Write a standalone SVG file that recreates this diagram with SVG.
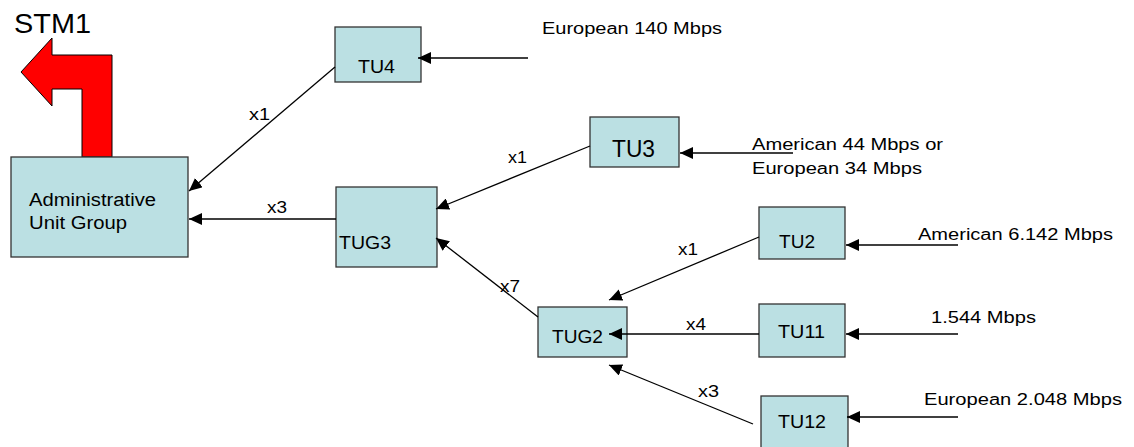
<svg xmlns="http://www.w3.org/2000/svg" width="1134" height="447" viewBox="0 0 1134 447">
<style>
.box{fill:#BBE0E3;stroke:#333;stroke-width:1.3}
text{font-family:"Liberation Sans",Arial,sans-serif;fill:#000}
.ln{stroke:#000;stroke-width:1.3;fill:none;marker-end:url(#ah)}
</style>
<defs>
<marker id="ah" markerUnits="userSpaceOnUse" markerWidth="14" markerHeight="12" refX="13" refY="6" orient="auto">
<path d="M0,0 L13,6 L0,12 Z" fill="#000"/>
</marker>
</defs>
<rect width="1134" height="447" fill="#fff"/>
<g id="stm1">
<text x="14" y="33" font-size="27" textLength="77" lengthAdjust="spacingAndGlyphs">STM1</text>
<polygon points="112,55 112,157 82,157 82,89 52,89 52,106 21,72 52,38 52,55" fill="#FF0000" stroke="#000" stroke-width="1"/>
</g>
<g id="admin">
<rect class="box" x="11" y="157" width="177" height="100"/>
<text x="29" y="206" font-size="18" textLength="127" lengthAdjust="spacingAndGlyphs">Administrative</text>
<text x="29" y="229" font-size="18" textLength="98" lengthAdjust="spacingAndGlyphs">Unit Group</text>
</g>
<g id="tu4">
<rect class="box" x="335" y="27" width="86" height="55"/>
<text x="358" y="73" font-size="19" textLength="37" lengthAdjust="spacingAndGlyphs">TU4</text>
</g>
<g id="tug3">
<rect class="box" x="336" y="187" width="101" height="80"/>
<text x="339" y="249" font-size="18" textLength="52" lengthAdjust="spacingAndGlyphs">TUG3</text>
</g>
<g id="tu3">
<rect class="box" x="590" y="117" width="89" height="50"/>
<text x="612" y="157" font-size="24" textLength="43" lengthAdjust="spacingAndGlyphs">TU3</text>
</g>
<g id="tug2">
<rect class="box" x="538" y="307" width="89" height="50"/>
<text x="552" y="343" font-size="18" textLength="51" lengthAdjust="spacingAndGlyphs">TUG2</text>
</g>
<g id="tu2">
<rect class="box" x="759" y="207" width="86" height="52"/>
<text x="779" y="248" font-size="18" textLength="36" lengthAdjust="spacingAndGlyphs">TU2</text>
</g>
<g id="tu11">
<rect class="box" x="759" y="304" width="86" height="53"/>
<text x="778" y="338" font-size="18" textLength="47" lengthAdjust="spacingAndGlyphs">TU11</text>
</g>
<g id="tu12">
<rect class="box" x="761" y="396" width="87" height="54"/>
<text x="778" y="428" font-size="18" textLength="48" lengthAdjust="spacingAndGlyphs">TU12</text>
</g>
<g id="inputs">
<text x="542" y="34" font-size="16" textLength="180" lengthAdjust="spacingAndGlyphs">European 140 Mbps</text>
<text x="752" y="150" font-size="16" textLength="191" lengthAdjust="spacingAndGlyphs">American 44 Mbps or</text>
<text x="752" y="174" font-size="16" textLength="170" lengthAdjust="spacingAndGlyphs">European 34 Mbps</text>
<text x="918" y="240" font-size="16" textLength="195" lengthAdjust="spacingAndGlyphs">American 6.142 Mbps</text>
<text x="931" y="323" font-size="16" textLength="105" lengthAdjust="spacingAndGlyphs">1.544 Mbps</text>
<text x="924" y="405" font-size="16" textLength="198" lengthAdjust="spacingAndGlyphs">European 2.048 Mbps</text>
</g>
<g id="connectors">
<line class="ln" x1="528" y1="58" x2="418" y2="58"/>
<line class="ln" x1="793" y1="153" x2="680" y2="153"/>
<line class="ln" x1="958" y1="245" x2="846" y2="245"/>
<line class="ln" x1="958" y1="334" x2="846" y2="334"/>
<line class="ln" x1="958" y1="417" x2="847" y2="417"/>
<line class="ln" x1="335" y1="67" x2="189" y2="191"/>
<line class="ln" x1="336" y1="219" x2="189" y2="219"/>
<line class="ln" x1="590" y1="146" x2="436" y2="209"/>
<line class="ln" x1="538" y1="317" x2="436" y2="238"/>
<line class="ln" x1="759" y1="237" x2="609" y2="300"/>
<line class="ln" x1="759" y1="334" x2="609" y2="334"/>
<line class="ln" x1="753" y1="424" x2="609" y2="365"/>
<text x="249" y="120" font-size="16" textLength="21" lengthAdjust="spacingAndGlyphs">x1</text>
<text x="267" y="213" font-size="16" textLength="20" lengthAdjust="spacingAndGlyphs">x3</text>
<text x="508" y="163" font-size="16" textLength="19" lengthAdjust="spacingAndGlyphs">x1</text>
<text x="500" y="292" font-size="16" textLength="20" lengthAdjust="spacingAndGlyphs">x7</text>
<text x="678" y="255" font-size="16" textLength="20" lengthAdjust="spacingAndGlyphs">x1</text>
<text x="686" y="330" font-size="16" textLength="20" lengthAdjust="spacingAndGlyphs">x4</text>
<text x="698" y="397" font-size="16" textLength="21" lengthAdjust="spacingAndGlyphs">x3</text>
</g>
</svg>
